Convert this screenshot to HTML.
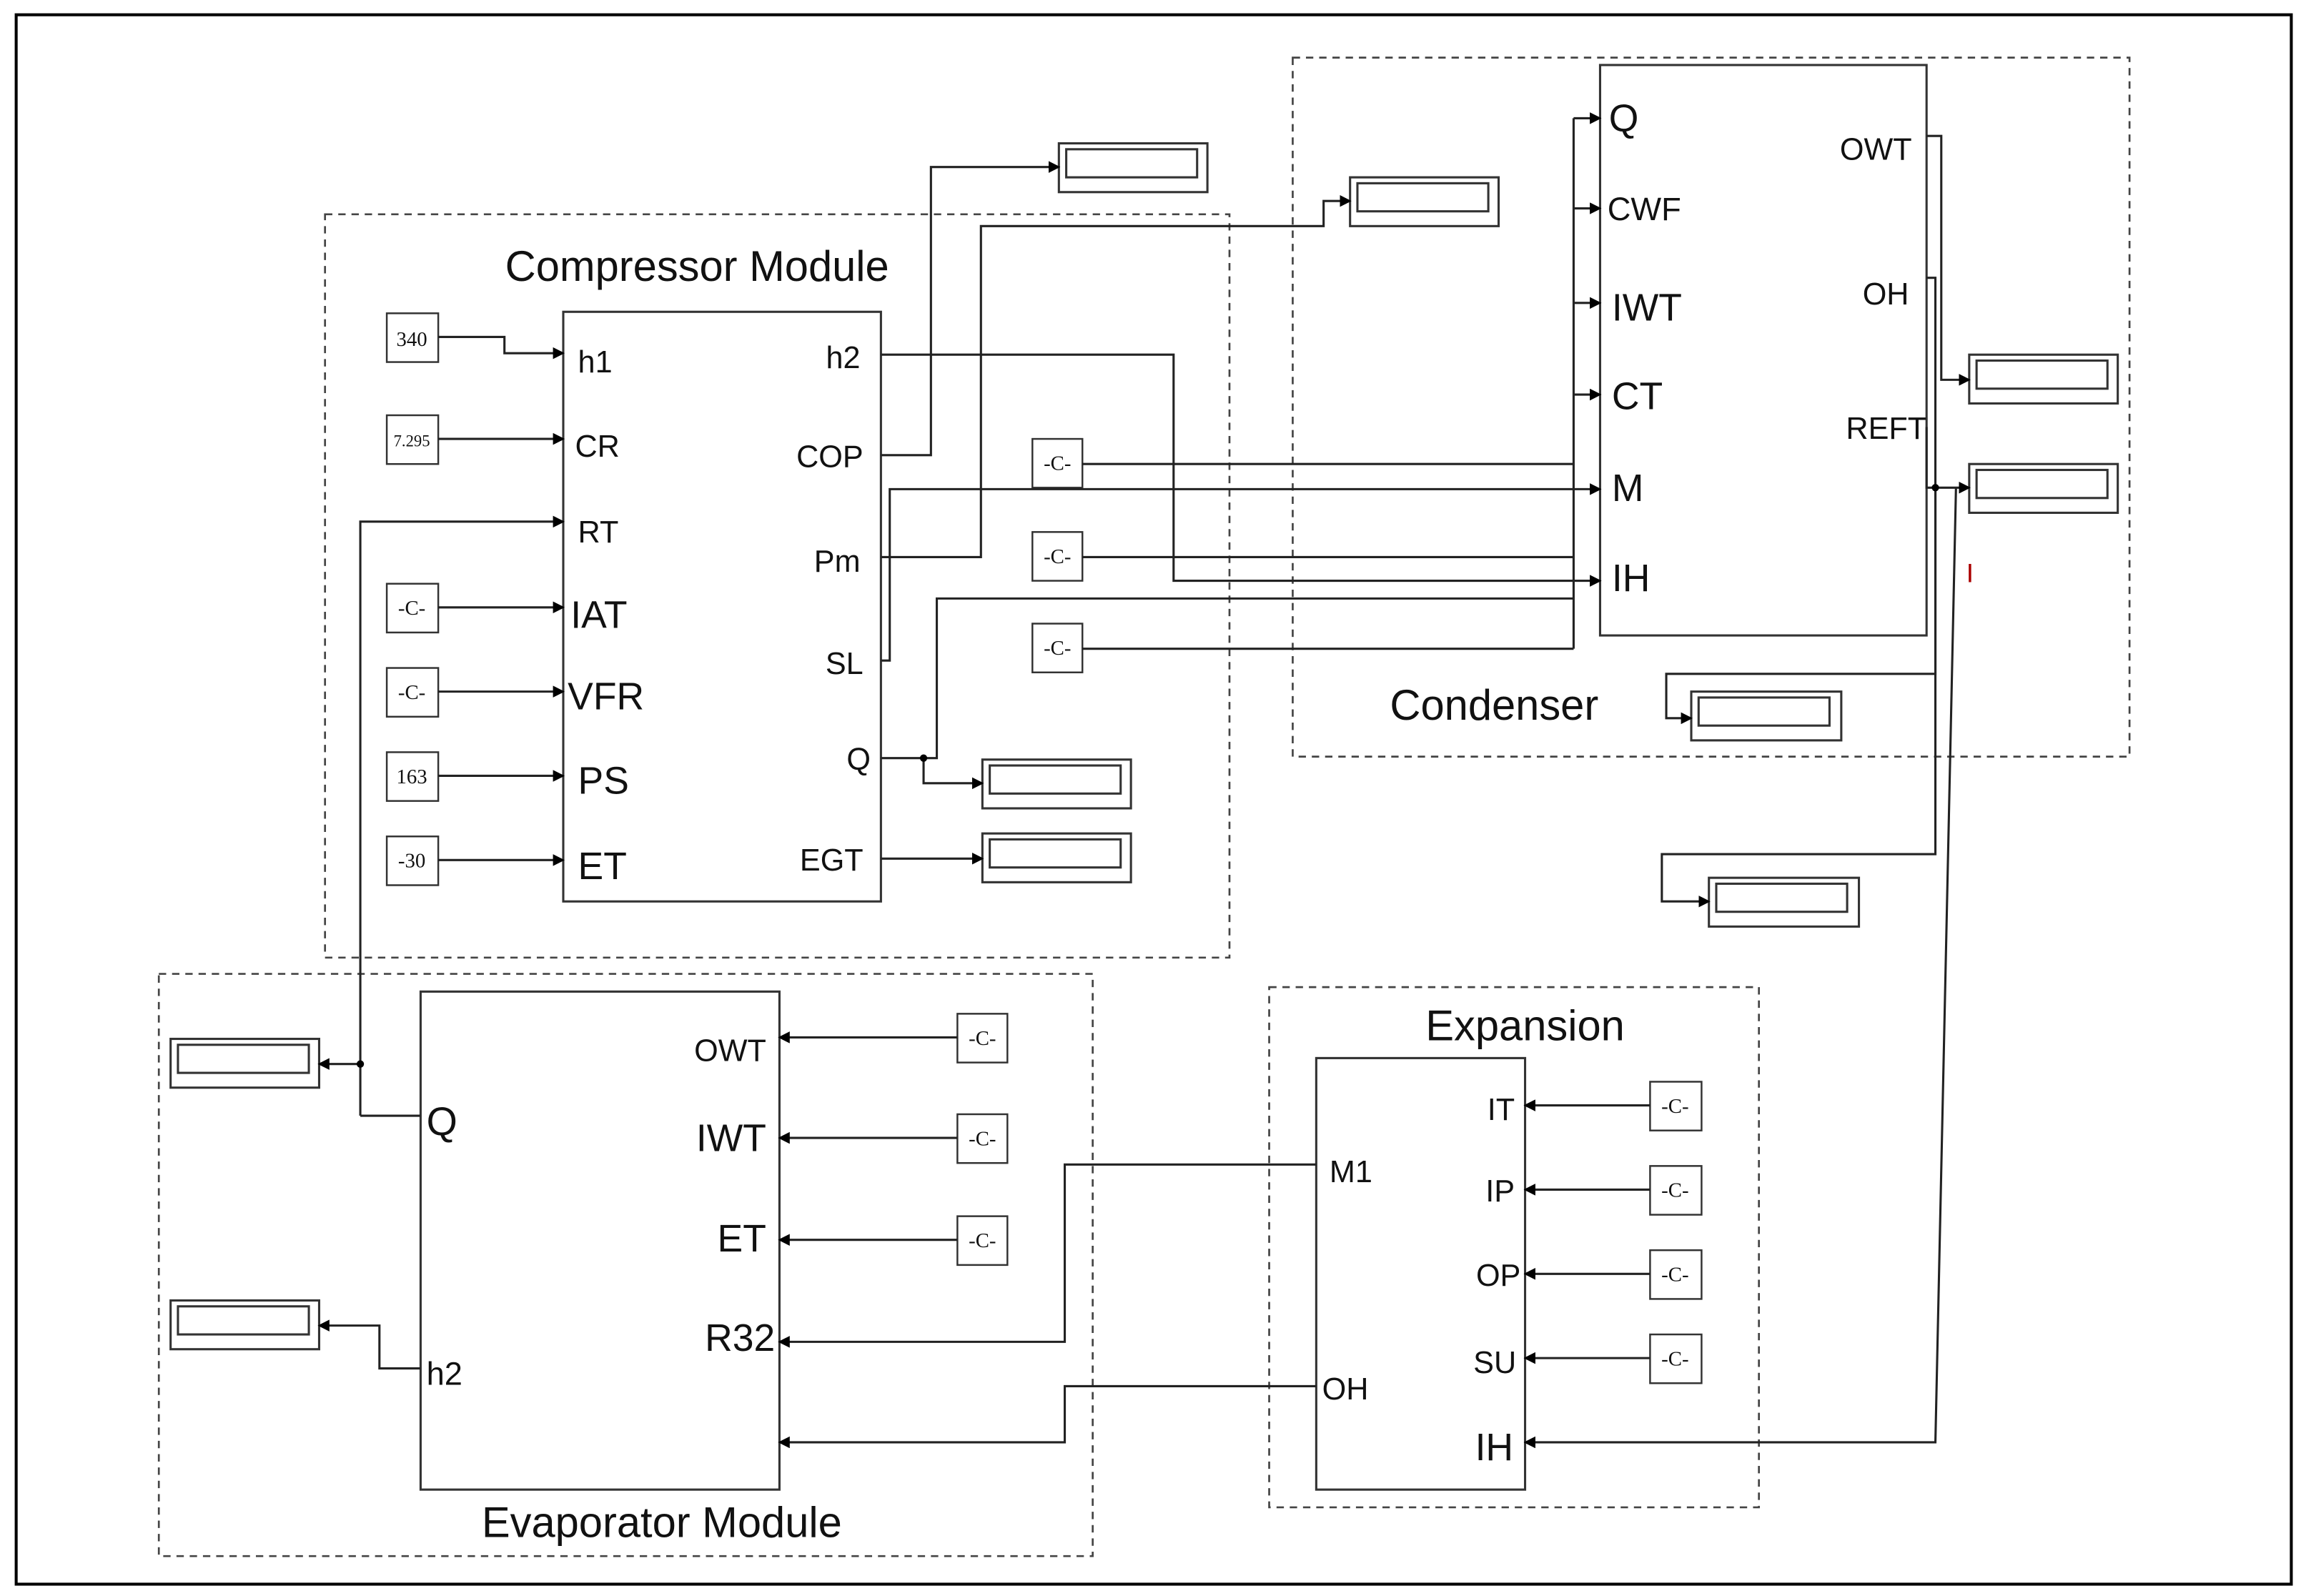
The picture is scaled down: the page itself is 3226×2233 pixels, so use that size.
<!DOCTYPE html>
<html><head><meta charset="utf-8"><style>
html,body{margin:0;padding:0;background:#fff}
svg{display:block}
text{font-family:"Liberation Sans",sans-serif;fill:#111}
.s{font-family:"Liberation Serif",serif;font-size:14px}
</style></head><body>
<svg width="3226" height="2233" viewBox="0 0 1568 1080" preserveAspectRatio="none" xmlns="http://www.w3.org/2000/svg">
<defs><marker id="a" markerWidth="8" markerHeight="8" refX="7" refY="4" orient="auto" markerUnits="userSpaceOnUse"><path d="M0,0 L8,4 L0,8 z" fill="#000"/></marker></defs>
<rect x="0" y="0" width="1568" height="1080" fill="#fff"/>
<rect x="11" y="10" width="1547" height="1062" fill="none" stroke="#000" stroke-width="2"/>
<g fill="none" stroke="#444" stroke-width="1.3" stroke-dasharray="5,4">
<rect x="221" y="145" width="615" height="503"/>
<rect x="879" y="39" width="569" height="473"/>
<rect x="863" y="668" width="333" height="352"/>
<rect x="108" y="659" width="635" height="394"/>
</g>
<g fill="#fff" stroke="#333" stroke-width="1.5">
<rect x="383" y="211" width="216" height="399"/>
<rect x="1088" y="44" width="222" height="386"/>
<rect x="895" y="716" width="142" height="292"/>
<rect x="286" y="671" width="244" height="337"/>
</g>
<g fill="none" stroke="#333" stroke-width="1.5">
<rect x="720" y="97" width="101" height="33"/><rect x="725" y="101" width="89" height="19"/>
<rect x="918" y="120" width="101" height="33"/><rect x="923" y="124" width="89" height="19"/>
<rect x="668" y="514" width="101" height="33"/><rect x="673" y="518" width="89" height="19"/>
<rect x="668" y="564" width="101" height="33"/><rect x="673" y="568" width="89" height="19"/>
<rect x="1339" y="240" width="101" height="33"/><rect x="1344" y="244" width="89" height="19"/>
<rect x="1339" y="314" width="101" height="33"/><rect x="1344" y="318" width="89" height="19"/>
<rect x="1150" y="468" width="102" height="33"/><rect x="1155" y="472" width="89" height="19"/>
<rect x="1162" y="594" width="102" height="33"/><rect x="1167" y="598" width="89" height="19"/>
<rect x="116" y="703" width="101" height="33"/><rect x="121" y="707" width="89" height="19"/>
<rect x="116" y="880" width="101" height="33"/><rect x="121" y="884" width="89" height="19"/>
</g>
<g fill="#fff" stroke="#333" stroke-width="1.2">
<rect x="263" y="212" width="35" height="33"/><rect x="263" y="281" width="35" height="33"/>
<rect x="263" y="395" width="35" height="33"/><rect x="263" y="452" width="35" height="33"/>
<rect x="263" y="509" width="35" height="33"/><rect x="263" y="566" width="35" height="33"/>
<rect x="702" y="297" width="34" height="33"/><rect x="702" y="360" width="34" height="33"/><rect x="702" y="422" width="34" height="33"/>
<rect x="651" y="686" width="34" height="33"/><rect x="651" y="754" width="34" height="33"/><rect x="651" y="823" width="34" height="33"/>
<rect x="1122" y="732" width="35" height="33"/><rect x="1122" y="789" width="35" height="33"/><rect x="1122" y="846" width="35" height="33"/><rect x="1122" y="903" width="35" height="33"/>
</g>
<g class="s" text-anchor="middle">
<text x="280" y="234" class="s">340</text><text x="280" y="302" class="s" style="font-size:11px">7.295</text>
<text x="280" y="416" class="s">-C-</text><text x="280" y="473" class="s">-C-</text>
<text x="280" y="530" class="s">163</text><text x="280" y="587" class="s">-30</text>
<text x="719" y="318" class="s">-C-</text><text x="719" y="381" class="s">-C-</text><text x="719" y="443" class="s">-C-</text>
<text x="668" y="707" class="s">-C-</text><text x="668" y="775" class="s">-C-</text><text x="668" y="844" class="s">-C-</text>
<text x="1139" y="753" class="s">-C-</text><text x="1139" y="810" class="s">-C-</text><text x="1139" y="867" class="s">-C-</text><text x="1139" y="924" class="s">-C-</text>
</g>
<g fill="none" stroke="#222" stroke-width="1.5">
<path d="M298,228 H343 V239 H383" marker-end="url(#a)"/>
<path d="M298,297 H383" marker-end="url(#a)"/>
<path d="M245,755 H286 M245,755 V353 H383" marker-end="url(#a)"/>
<path d="M245,720 H217" marker-end="url(#a)"/>
<path d="M298,411 H383" marker-end="url(#a)"/>
<path d="M298,468 H383" marker-end="url(#a)"/>
<path d="M298,525 H383" marker-end="url(#a)"/>
<path d="M298,582 H383" marker-end="url(#a)"/>
<path d="M599,308 H633 V113 H720" marker-end="url(#a)"/>
<path d="M599,240 H798 V393 H1088" marker-end="url(#a)"/>
<path d="M599,377 H667 V153 H900 V136 H918" marker-end="url(#a)"/>
<path d="M599,447 H605 V331 H1088" marker-end="url(#a)"/>
<path d="M599,513 H628 V530 H668" marker-end="url(#a)"/>
<path d="M628,513 H637 V405 H1070"/>
<path d="M599,581 H668" marker-end="url(#a)"/>
<path d="M736,314 H1070 M736,377 H1070 M736,439 H1070 M1070,439 V80"/>
<path d="M1070,80 H1088" marker-end="url(#a)"/>
<path d="M1070,141 H1088" marker-end="url(#a)"/>
<path d="M1070,205 H1088" marker-end="url(#a)"/>
<path d="M1070,267 H1088" marker-end="url(#a)"/>
<path d="M1310,92 H1320 V257 H1339" marker-end="url(#a)"/>
<path d="M1310,188 H1316 V456 H1133 V486 H1150" marker-end="url(#a)"/>
<path d="M1310,289 V330 H1339" marker-end="url(#a)"/>
<path d="M1316,330 V578 H1130 V610 H1162" marker-end="url(#a)"/>
<path d="M1330,330 L1316,976 H1037" marker-end="url(#a)"/>
<path d="M895,788 H724 V908 H530" marker-end="url(#a)"/>
<path d="M895,938 H724 V976 H530" marker-end="url(#a)"/>
<path d="M651,702 H530" marker-end="url(#a)"/>
<path d="M651,770 H530" marker-end="url(#a)"/>
<path d="M651,839 H530" marker-end="url(#a)"/>
<path d="M1122,748 H1037" marker-end="url(#a)"/>
<path d="M1122,805 H1037" marker-end="url(#a)"/>
<path d="M1122,862 H1037" marker-end="url(#a)"/>
<path d="M1122,919 H1037" marker-end="url(#a)"/>
<path d="M286,926 H258 V897 H217" marker-end="url(#a)"/>
</g>
<g fill="#000"><circle cx="245" cy="720" r="2.5"/><circle cx="628" cy="513" r="2.5"/><circle cx="1316" cy="330" r="2.5"/></g>
<text x="474" y="190" font-size="29" text-anchor="middle">Compressor Module</text>
<g font-size="21">
<text x="393" y="252">h1</text><text x="391" y="309">CR</text><text x="393" y="367">RT</text>
<text x="388" y="425" font-size="26">IAT</text><text x="386" y="480" font-size="26">VFR</text>
<text x="393" y="537" font-size="26">PS</text><text x="393" y="595" font-size="26">ET</text>
</g>
<g font-size="21" text-anchor="end">
<text x="585" y="249">h2</text><text x="587" y="316">COP</text><text x="585" y="387">Pm</text>
<text x="587" y="456">SL</text><text x="592" y="521">Q</text><text x="587" y="589">EGT</text>
</g>
<g font-size="22">
<text x="1094" y="89" font-size="26">Q</text><text x="1093" y="149">CWF</text>
<text x="1096" y="217" font-size="26">IWT</text><text x="1096" y="277" font-size="26">CT</text>
<text x="1096" y="339" font-size="26">M</text><text x="1096" y="400" font-size="26">IH</text>
</g>
<g font-size="21" text-anchor="end">
<text x="1300" y="108">OWT</text><text x="1298" y="206">OH</text><text x="1310" y="297">REFT</text>
</g>
<text x="1337" y="394" font-size="18" style="fill:#a00">I</text>
<text x="1016" y="487" font-size="29" text-anchor="middle">Condenser</text>
<text x="1037" y="704" font-size="29" text-anchor="middle">Expansion</text>
<g font-size="21"><text x="904" y="800">M1</text><text x="899" y="947">OH</text></g>
<g font-size="21" text-anchor="end">
<text x="1030" y="758">IT</text><text x="1030" y="813">IP</text><text x="1034" y="870">OP</text><text x="1031" y="929">SU</text>
<text x="1029" y="988" font-size="26">IH</text>
</g>
<g font-size="22"><text x="290" y="768" font-size="27">Q</text><text x="290" y="937">h2</text></g>
<g text-anchor="end">
<text x="521" y="718" font-size="21">OWT</text><text x="521" y="779" font-size="26">IWT</text>
<text x="521" y="847" font-size="26">ET</text><text x="527" y="914" font-size="26">R32</text>
</g>
<text x="450" y="1040" font-size="29" text-anchor="middle">Evaporator Module</text>
</svg>
</body></html>
